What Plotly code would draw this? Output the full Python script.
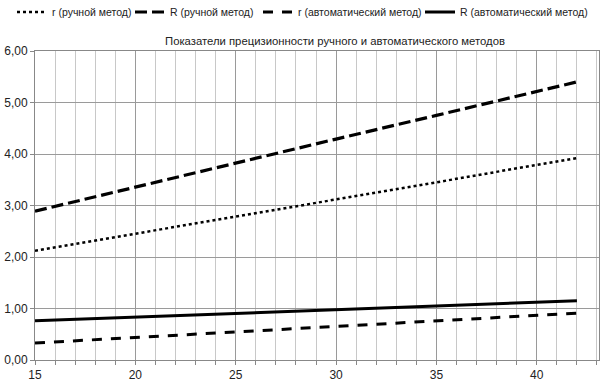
import plotly.graph_objects as go

x_vals = [15, 20, 25, 30, 35, 40, 42]
r_manual = [2.12, 2.45, 2.79, 3.12, 3.45, 3.79, 3.92]
R_manual = [2.89, 3.36, 3.82, 4.29, 4.75, 5.22, 5.40]
r_auto = [0.33, 0.44, 0.55, 0.65, 0.76, 0.87, 0.91]
R_auto = [0.76, 0.83, 0.90, 0.98, 1.05, 1.12, 1.15]

names = ["r (ручной метод)", "R (ручной метод)", "r (автоматический метод)", "R (автоматический метод)"]
series = [r_manual, R_manual, r_auto, R_auto]
dashes = ["dot", "12px,5px", "10px,9px", "solid"]
widths = [2.5, 3.2, 3, 3]
legend_ids = ["legend", "legend2", "legend3", "legend4"]
text_starts = [60, 178, 306, 468]

fig = go.Figure()
for n, s, d, w, lg in zip(names, series, dashes, widths, legend_ids):
    fig.add_trace(go.Scatter(x=x_vals, y=s, mode="lines", name=n, legend=lg,
                             line=dict(color="black", dash=d, width=w)))

layout_legends = {}
for lg, ts in zip(legend_ids, text_starts):
    layout_legends[lg] = dict(orientation="h", xref="container", yref="container",
                              x=(ts - 48) / 608, xanchor="left",
                              y=1 - 12 / 384, yanchor="middle",
                              font=dict(size=10.5, color="#222"),
                              bgcolor="rgba(0,0,0,0)", itemwidth=30,
                              borderwidth=0)

fig.update_layout(
    width=608, height=384,
    margin=dict(l=35, r=9, t=51, b=24, autoexpand=False),
    paper_bgcolor="white", plot_bgcolor="white",
    separators=", ",
    font=dict(family="Liberation Sans, Arial", size=12, color="#222"),
    title=dict(text="Показатели прецизионности ручного и автоматического методов",
               xref="container", x=335 / 608, xanchor="center",
               yref="container", y=1 - 41 / 384, yanchor="middle",
               font=dict(size=11.3, color="#222")),
    showlegend=True,
    **layout_legends,
)
fig.update_xaxes(range=[15, 43.1], tick0=15, dtick=5, showgrid=True,
                 gridcolor="#9a9a9a", gridwidth=1,
                 minor=dict(dtick=1, showgrid=True, gridcolor="#c8c8c8", gridwidth=1,
                            ticks="outside", ticklen=4, tickcolor="#888"),
                 ticks="outside", ticklen=4, tickcolor="#888",
                 showline=True, linecolor="#888", mirror=True, zeroline=False,
                 tickfont=dict(size=12))
fig.update_yaxes(range=[0, 6], dtick=1, tickformat=".2f", showgrid=True,
                 gridcolor="#9a9a9a", gridwidth=1,
                 ticks="outside", ticklen=4, tickcolor="#888",
                 showline=True, linecolor="#888", mirror=True, zeroline=False,
                 tickfont=dict(size=12))

fig.write_html("out.html", config={"displayModeBar": False},
               post_script="document.body.style.margin='0';")
